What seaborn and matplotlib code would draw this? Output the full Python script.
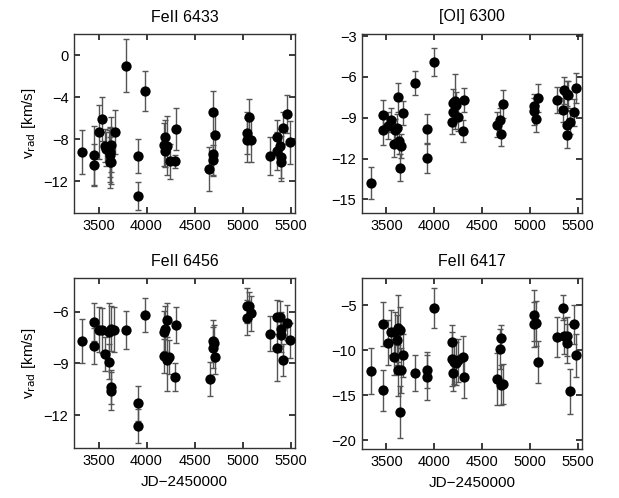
import numpy as np
import pandas as pd
import matplotlib
matplotlib.use("Agg")
import matplotlib.pyplot as plt
import seaborn as sns

# ---------------- data ----------------
titles = ["FeII 6433", "[OI] 6300", "FeII 6456", "FeII 6417"]

jd_6433 = [3329, 3455, 3451, 3503, 3535, 3570, 3580, 3608, 3615, 3622, 3630, 3615, 3633, 3668,
           3790, 3986, 3916, 3916, 4189, 4185, 4189, 4217, 4245, 4294, 4304,
           4650, 4689, 4696, 4692, 4710, 5042, 5042, 5063, 5091,
           5283, 5353, 5360, 5392, 5399, 5399, 5423, 5465, 5490]
v_6433 = [-9.2, -9.5, -10.4, -7.3, -6.1, -8.6, -8.9, -8.7, -9.2, -9.5, -8.5, -10.2, -10.2, -7.3,
          -1.0, -3.4, -9.6, -13.4, -7.8, -8.5, -9.1, -8.6, -10.1, -10.1, -7.0,
          -10.8, -10.0, -9.4, -5.4, -7.6, -7.4, -8.1, -5.9, -8.1,
          -9.6, -7.8, -9.1, -8.6, -9.7, -10.2, -6.9, -5.6, -8.3]
e_6433 = [2.1, 2.8, 2.0, 2.6, 2.1, 1.6, 1.6, 1.6, 2.4, 2.6, 2.6, 2.4, 2.0, 2.1,
          2.5, 1.9, 1.6, 1.35, 1.6, 2.0, 1.5, 2.8, 1.7, 0.6, 2.0,
          2.1, 1.5, 2.0, 2.0, 2.0, 2.0, 2.1, 1.7, 2.1,
          1.8, 1.6, 1.8, 1.6, 2.0, 1.8, 1.5, 1.8, 2.0]

jd_6300 = [3344, 3465, 3465, 3517, 3552, 3587, 3580, 3615, 3625, 3632, 3649, 3642, 3677,
           3802, 3993, 3924, 3924, 4191, 4198, 4198, 4215, 4229, 4250, 4302, 4316,
           4656, 4691, 4698, 4719, 5045, 5045, 5062, 5090,
           5281, 5350, 5357, 5385, 5399, 5392, 5392, 5420, 5462, 5486]
v_6300 = [-13.8, -8.83, -9.9, -9.6, -9.15, -9.9, -10.9, -9.76, -7.5, -10.7, -11.07, -12.66, -8.65,
          -6.44, -4.9, -9.84, -11.95, -9.3, -8.6, -7.9, -7.8, -8.1, -8.95, -9.96, -7.7,
          -9.5, -9.15, -10.16, -8.0, -8.16, -8.53, -9.07, -7.55,
          -7.72, -8.43, -6.98, -7.23, -7.3, -9.5, -10.3, -9.3, -8.6, -6.8]
e_6300 = [1.15, 1.1, 1.1, 1.0, 0.9, 0.8, 1.0, 1.0, 1.05, 1.0, 0.9, 1.0, 0.9,
          0.86, 1.0, 1.1, 1.1, 0.9, 1.0, 1.0, 2.0, 1.0, 1.0, 0.8, 0.9,
          0.9, 0.9, 0.9, 1.0, 0.9, 1.0, 1.0, 1.0,
          0.95, 0.9, 1.0, 0.9, 1.0, 1.0, 0.9, 0.9, 1.0, 1.1]

jd_6456 = [3329, 3455, 3455, 3500, 3538, 3570, 3608, 3608, 3626, 3633, 3626, 3661,
           3790, 3986, 3916, 3916, 4182, 4189, 4182, 4217, 4210, 4238, 4294, 4308,
           4658, 4689, 4692, 4699, 4710, 5042, 5049, 5067, 5091,
           5283, 5353, 5357, 5392, 5395, 5399, 5423, 5462, 5490]
v_6456 = [-7.7, -6.58, -7.97, -7.05, -7.08, -8.44, -8.9, -7.2, -7.0, -10.37, -10.57, -7.05,
          -7.05, -6.19, -11.32, -12.62, -7.16, -7.0, -8.57, -6.48, -8.8, -8.63, -9.77, -6.77,
          -9.9, -8.09, -7.7, -7.8, -8.61, -6.35, -5.65, -5.65, -6.1,
          -7.28, -8.09, -6.31, -6.31, -7.0, -7.35, -8.8, -6.64, -7.66]
e_6456 = [1.26, 1.1, 1.05, 1.3, 1.3, 1.0, 1.0, 1.7, 1.3, 1.0, 1.1, 1.3,
          1.1, 1.0, 1.0, 1.0, 1.2, 1.3, 1.0, 1.0, 1.8, 1.0, 0.8, 1.05,
          1.0, 1.2, 1.2, 1.0, 1.0, 1.0, 1.0, 0.8, 1.0,
          1.0, 1.9, 1.0, 0.95, 1.0, 1.0, 0.9, 1.0, 1.0]

jd_6417 = [3344, 3465, 3465, 3517, 3552, 3587, 3580, 3615, 3625, 3642, 3625, 3649, 3642, 3677,
           3802, 3993, 3924, 3924, 4191, 4191, 4194, 4212, 4229, 4250, 4302, 4316,
           4656, 4691, 4698, 4702, 4719, 5045, 5045, 5062, 5090,
           5281, 5350, 5361, 5389, 5392, 5420, 5462, 5486]
v_6417 = [-12.33, -7.1, -14.48, -9.2, -8.04, -8.04, -10.78, -8.9, -7.6, -7.8, -12.26, -12.26, -16.93, -10.6,
          -12.56, -5.3, -12.26, -13.0, -9.07, -11.04, -12.59, -11.3, -11.48, -11.15, -10.78, -13.0,
          -13.26, -9.9, -13.9, -8.7, -13.8, -6.15, -7.15, -7.04, -11.33,
          -8.56, -5.3, -8.48, -8.48, -9.26, -14.56, -7.15, -10.6]
e_6417 = [2.6, 2.4, 2.3, 2.5, 2.5, 2.3, 2.0, 2.8, 3.7, 2.6, 2.8, 2.5, 2.9, 2.4,
          2.0, 2.2, 2.0, 2.5, 1.8, 3.0, 2.0, 2.5, 2.4, 2.4, 2.3, 2.3,
          2.9, 2.2, 2.2, 1.5, 2.2, 2.8, 2.5, 2.5, 2.35,
          2.2, 1.4, 2.0, 2.2, 2.2, 2.5, 2.2, 2.35]

panels = [
    (jd_6433, v_6433, e_6433, (-15, 2.0), [0, -4, -8, -12]),
    (jd_6300, v_6300, e_6300, (-16, -2.85), [-3, -6, -9, -12, -15]),
    (jd_6456, v_6456, e_6456, (-13.9, -4.05), [-6, -9, -12]),
    (jd_6417, v_6417, e_6417, (-21, -2.0), [-5, -10, -15, -20]),
]
xticks = [3500, 4000, 4500, 5000, 5500]

# ---------------- style ----------------
sns.set_theme(style="ticks")
plt.rcParams["font.family"] = ["Liberation Sans", "DejaVu Sans"]
plt.rcParams.update({
    "xtick.direction": "in", "ytick.direction": "in",
    "xtick.top": True, "ytick.right": True,
    "xtick.major.size": 4, "ytick.major.size": 4,
    "axes.edgecolor": "#333333", "axes.linewidth": 1.0,
    "xtick.labelsize": 10.5, "ytick.labelsize": 10.5,
    "text.color": "black", "axes.labelcolor": "black",
    "xtick.color": "#222222", "ytick.color": "#222222",
    "xtick.labelcolor": "black", "ytick.labelcolor": "black",
})

W, H = 619, 498
fig = plt.figure(figsize=(W / 100, H / 100), dpi=100)
boxes = [(74, 34, 295, 213), (362, 34, 582, 213), (74, 278, 295, 448), (362, 278, 582, 449)]

for i, ((jd, v, e, ylim, yt), (l, t, r, b)) in enumerate(zip(panels, boxes)):
    ax = fig.add_axes([l / W, 1 - b / H, (r - l) / W, (b - t) / H])
    df = pd.DataFrame({"jd": jd, "v": v, "e": e})
    ax.errorbar(df["jd"], df["v"], yerr=df["e"], fmt="none", ecolor="#555555",
                elinewidth=1.0, capsize=2.0, capthick=1.0, zorder=2)
    sns.scatterplot(data=df, x="jd", y="v", ax=ax, color="black", s=55,
                    edgecolor="black", linewidth=0, zorder=3, legend=False)
    ax.set_xlim(3245, 5545)
    ax.set_ylim(*ylim)
    ax.set_xticks(xticks)
    ax.set_yticks(yt)
    ax.tick_params(axis="both", which="major", pad=4)
    ax.set_title(titles[i], fontsize=11.5, pad=9, color="black")
    if i in (0, 2):
        ax.set_ylabel(r"v$_{\rm rad}$ [km/s]", fontsize=11, labelpad=4)
    else:
        ax.set_ylabel("")
    if i in (2, 3):
        ax.set_xlabel("JD\u22122450000", fontsize=11, labelpad=5)
    else:
        ax.set_xlabel("")
    for s in ax.spines.values():
        s.set_visible(True)

fig.savefig("out.png", dpi=100)
